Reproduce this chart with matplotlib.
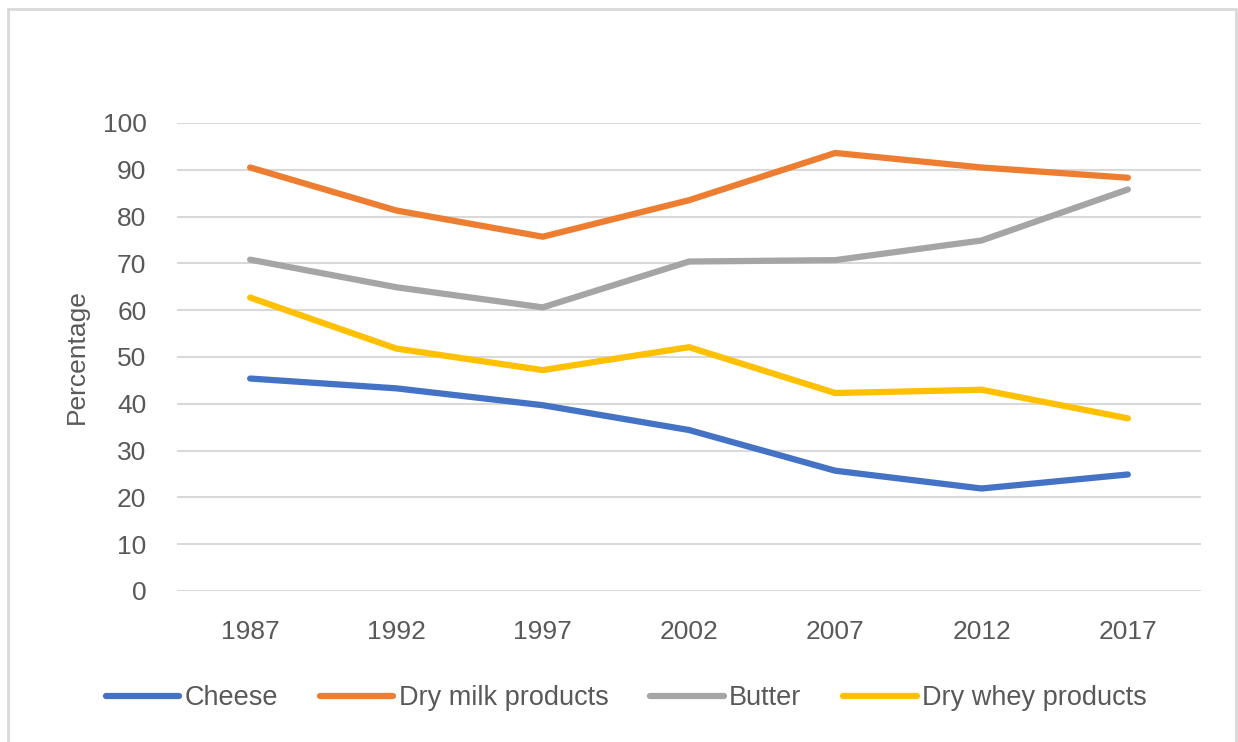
import matplotlib.pyplot as plt
from matplotlib.patches import Rectangle

years = ['1987', '1992', '1997', '2002', '2007', '2012', '2017']
cheese = [45.4, 43.3, 39.7, 34.4, 25.7, 21.9, 24.9]
dry_milk = [90.5, 81.3, 75.7, 83.5, 93.6, 90.5, 88.3]
butter = [70.8, 64.9, 60.6, 70.4, 70.7, 74.9, 85.8]
dry_whey = [62.7, 51.8, 47.2, 52.1, 42.3, 43.0, 36.9]

names = ['Cheese', 'Dry milk products', 'Butter', 'Dry whey products']
colors = ['#4472C4', '#ED7D31', '#A5A5A5', '#FFC000']

plt.rcParams['font.family'] = ['Liberation Sans', 'DejaVu Sans']
txt = '#595959'

fig = plt.figure(figsize=(12.38, 7.42), dpi=100)
ax = fig.add_axes([177/1238, 1-591/742, (1201-177)/1238, (591-123)/742])

x = range(len(years))
for vals, name, c in zip([cheese, dry_milk, butter, dry_whey], names, colors):
	ax.plot(x, vals, color=c, lw=4.5, label=name, solid_capstyle='round', solid_joinstyle='round')

ax.set_xlim(-0.5, 6.5)
ax.set_ylim(0, 100)
ax.set_yticks(range(0, 101, 10))
ax.set_xticks(list(x))
ax.set_xticklabels(years)
ax.grid(axis='y', color='#D9D9D9', lw=1.5)
ax.set_axisbelow(True)
for s in ax.spines.values():
	s.set_visible(False)
ax.tick_params(length=0, labelsize=19, colors=txt)
ax.tick_params(axis='y', pad=22)
ax.tick_params(axis='x', pad=21)
ax.set_ylabel('Percentage', fontsize=19, color=txt, labelpad=10)

leg = fig.legend(loc='center', bbox_to_anchor=(0.506, 1-698/742), ncol=4, frameon=False,
	fontsize=19.5, handlelength=2.7, handletextpad=0.2, columnspacing=1.55, labelcolor=txt)
for h in leg.legend_handles:
	h.set_solid_capstyle('round')

fig.patches.append(Rectangle((8/1238, -0.02), (1236-8)/1238, 1.02-9/742, transform=fig.transFigure,
	fill=False, edgecolor='#D9D9D9', lw=2))

fig.savefig('out.png')
